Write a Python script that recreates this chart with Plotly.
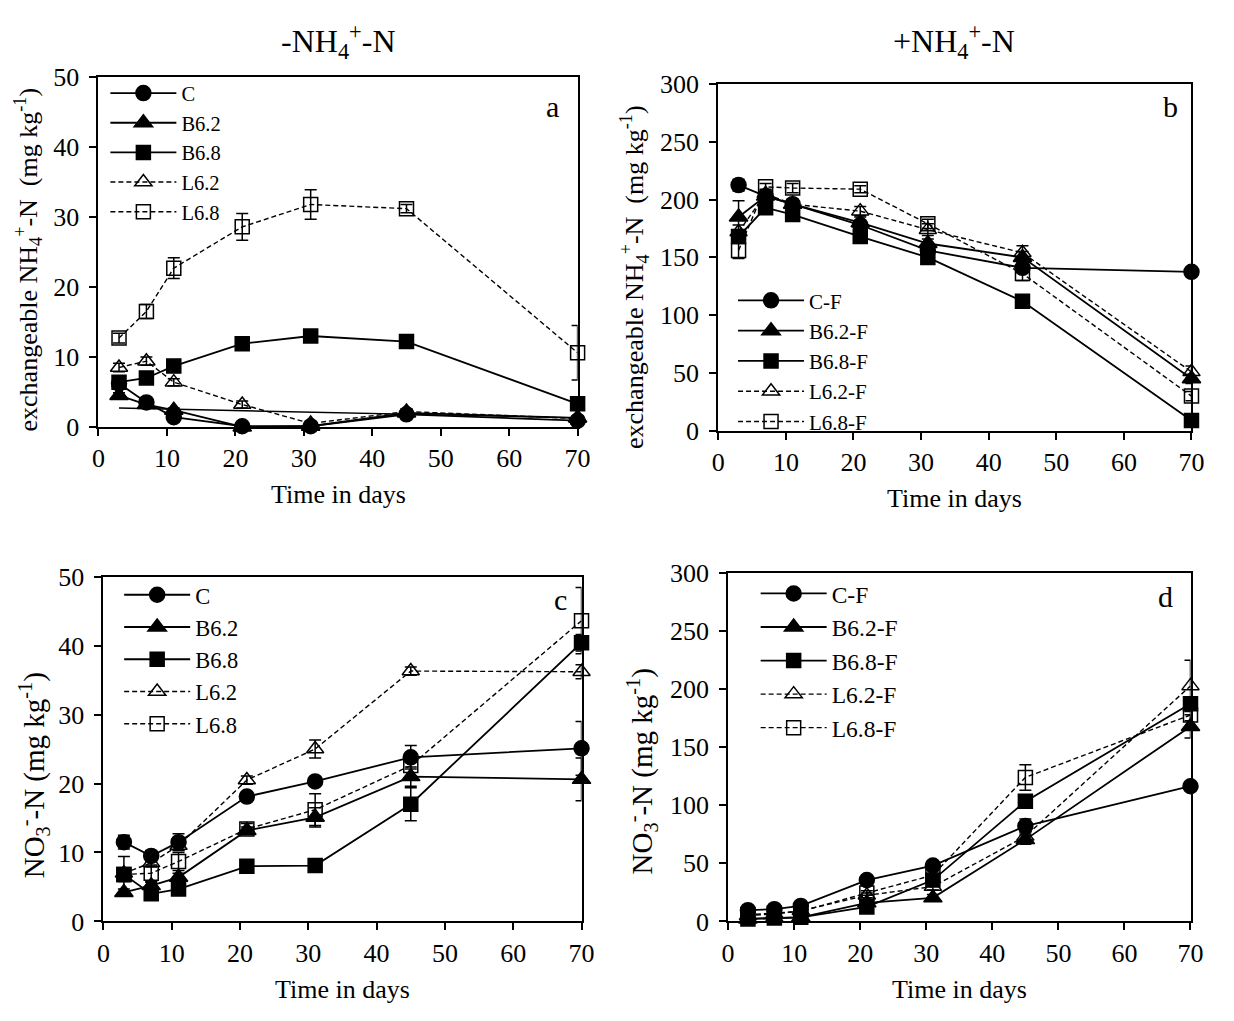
import plotly.graph_objects as go

# Sampling days
days = [3, 7, 11, 21, 31, 45, 70]

# Panel a: exchangeable NH4+-N without NH4+ addition (mg kg-1)
a_C = [6.2, 3.5, 1.4, 0.1, 0.1, 1.8, 0.9]
a_B62 = [4.5, 3.2, 2.4, 0.0, 0.1, 2.0, 1.3]
a_B68 = [6.4, 7.0, 8.7, 11.9, 13.0, 12.2, 3.3]
a_L62 = [8.5, 9.4, 6.4, 3.2, 0.5, 2.2, 1.2]
a_L68 = [12.7, 16.5, 22.7, 28.6, 31.8, 31.2, 10.6]
a_C_err = [0.4, 0.4, 0.3, 0.1, 0.1, 0.3, 0.2]
a_B62_err = [0.4, 0.3, 0.3, 0.1, 0.1, 0.3, 0.2]
a_B68_err = [0.4, 0.4, 0.4, 0.4, 0.4, 0.5, 0.4]
a_L62_err = [0.6, 0.6, 0.5, 0.5, 0.3, 0.4, 0.3]
a_L68_err = [0.7, 1.0, 1.5, 1.9, 2.1, 0.6, 3.9]
# straight line drawn without markers in panel a
a_extra_x = [3, 70]
a_extra_y = [2.7, 1.3]

# Panel b: exchangeable NH4+-N with NH4+ addition (mg kg-1)
b_C = [212.5, 203, 196, 178, 156, 141, 137.5]
b_B62 = [185, 203, 196, 180, 162, 150, 45]
b_B68 = [168, 193, 187, 168, 150, 112, 9]
b_L62 = [172, 205, 196, 190, 174, 154, 51]
b_L68 = [156, 211, 210, 209, 179, 136, 30]
b_C_err = [5, 3, 3, 4, 4, 4, 3]
b_B62_err = [14, 4, 4, 5, 4, 5, 4]
b_B68_err = [5, 4, 4, 4, 4, 3, 3]
b_L62_err = [6, 4, 4, 4, 5, 6, 5]
b_L68_err = [7, 3, 4, 3, 4, 6, 4]

# Panel c: NO3--N without NH4+ addition (mg kg-1)
c_C = [11.5, 9.5, 11.5, 18.1, 20.3, 23.8, 25.1]
c_B62 = [4.2, 5.2, 6.4, 13.2, 15.1, 21.0, 20.6]
c_B68 = [6.8, 4.0, 4.7, 8.0, 8.1, 17.0, 40.4]
c_L62 = [7.0, 8.5, 11.0, 20.5, 25.0, 36.3, 36.2]
c_L68 = [6.8, 7.0, 8.7, 13.4, 16.2, 22.6, 43.6]
c_C_err = [1.0, 0.8, 1.2, 0.5, 0.6, 1.7, 3.9]
c_B62_err = [0.5, 0.5, 0.6, 0.5, 1.4, 1.4, 3.1]
c_B68_err = [2.6, 0.4, 0.5, 0.4, 0.4, 2.4, 1.2]
c_L62_err = [0.6, 0.6, 0.7, 0.6, 1.3, 0.6, 1.0]
c_L68_err = [1.0, 1.2, 1.3, 0.8, 2.3, 1.5, 4.8]

# Panel d: NO3--N with NH4+ addition (mg kg-1)
d_C = [9.7, 10.6, 13.4, 35.6, 48.1, 82.1, 116.3]
d_B62 = [2.2, 2.8, 3.6, 16.0, 20.3, 70.4, 167.8]
d_B68 = [2.2, 3.0, 3.6, 12.5, 35.6, 103.3, 187.3]
d_L62 = [5.0, 6.4, 9.2, 22.5, 30.0, 73.2, 202.6]
d_L68 = [5.8, 7.0, 8.6, 24.5, 39.8, 123.9, 177.6]
d_C_err = [2, 2, 2, 2, 4, 6, 3]
d_B62_err = [1, 1, 1, 2, 3, 4, 10]
d_B68_err = [1, 1, 1, 2, 3, 4, 5]
d_L62_err = [1, 1, 1, 2, 3, 4, 22]
d_L68_err = [1, 1, 1, 2, 4, 11, 5]

names_plain = ["C", "B6.2", "B6.8", "L6.2", "L6.8"]
names_f = ["C-F", "B6.2-F", "B6.8-F", "L6.2-F", "L6.8-F"]

W, H = 1234, 1021
FONT = "Liberation Serif, Times New Roman, serif"

# symbol, marker size, dashed?
styles = [
    ("circle", 15, False),
    ("triangle-up", 16, False),
    ("square", 14, False),
    ("triangle-up-open", 15, True),
    ("square-open", 14, True),
]

# plot areas in pixels: (left, right, top, bottom)
boxes = {
    1: (93, 580, 65, 425),
    2: (723, 1204, 72, 429),
    3: (98, 584, 579, 934),
    4: (733, 1203, 575, 934),
}

fig = go.Figure()


def add_panel(idx, series, errors, names, legend_id):
    xa = "x" if idx == 1 else f"x{idx}"
    ya = "y" if idx == 1 else f"y{idx}"
    for (sym, size, dashed), yv, ev, nm in zip(styles, series, errors, names):
        fig.add_trace(go.Scatter(
            x=days, y=yv, name=nm, mode="lines+markers",
            xaxis=xa, yaxis=ya, legend=legend_id, cliponaxis=False,
            line=dict(color="black", width=1.4 if dashed else 1.8,
                      dash="5px,3px" if dashed else "solid"),
            marker=dict(symbol=sym, size=size, color="black",
                        line=dict(color="black", width=1.5)),
            error_y=dict(type="data", array=ev, visible=True,
                         color="black", thickness=1.5, width=6),
        ))


add_panel(1, [a_C, a_B62, a_B68, a_L62, a_L68],
          [a_C_err, a_B62_err, a_B68_err, a_L62_err, a_L68_err], names_plain, "legend")
fig.add_trace(go.Scatter(x=a_extra_x, y=a_extra_y, mode="lines", showlegend=False,
                         xaxis="x", yaxis="y", line=dict(color="black", width=1.4)))
add_panel(2, [b_C, b_B62, b_B68, b_L62, b_L68],
          [b_C_err, b_B62_err, b_B68_err, b_L62_err, b_L68_err], names_f, "legend2")
add_panel(3, [c_C, c_B62, c_B68, c_L62, c_L68],
          [c_C_err, c_B62_err, c_B68_err, c_L62_err, c_L68_err], names_plain, "legend3")
add_panel(4, [d_C, d_B62, d_B68, d_L62, d_L68],
          [d_C_err, d_B62_err, d_B68_err, d_L62_err, d_L68_err], names_f, "legend4")


def px_x(p):
    return p / W


def px_y(p):
    return 1 - p / H


layout = dict(
    width=W, height=H, margin=dict(l=0, r=0, t=0, b=0),
    paper_bgcolor="white", plot_bgcolor="white",
    font=dict(family=FONT, color="black", size=26),
)

y_ranges = {1: (0, 50, 10), 2: (0, 300, 50), 3: (0, 50, 10), 4: (0, 300, 50)}
for i, (l, r, t, b) in boxes.items():
    sx = "" if i == 1 else str(i)
    lo, hi, dt = y_ranges[i]
    common = dict(showline=True, linecolor="black", linewidth=2, mirror=True,
                  ticks="outside", ticklen=7, tickwidth=2, tickcolor="black",
                  showgrid=False, zeroline=False,
                  tickfont=dict(family=FONT, size=26, color="black"))
    layout["xaxis" + sx] = dict(domain=[px_x(l), px_x(r)], range=[0, 70], dtick=10,
                                tick0=0, anchor="y" + sx, **common)
    layout["yaxis" + sx] = dict(domain=[px_y(b), px_y(t)], range=[lo, hi], dtick=dt,
                                tick0=0, anchor="x" + sx, ticklabelstandoff=5, **common)

# legends: (left px, top px, font size)
legend_pos = {"legend": (100, 61, 20.5), "legend2": (738, 274, 21),
              "legend3": (114, 576, 22.5), "legend4": (761, 574, 23.5)}
for key, (lx, ty, fs) in legend_pos.items():
    layout[key] = dict(x=px_x(lx), y=px_y(ty), xanchor="left", yanchor="top",
                       bgcolor="rgba(0,0,0,0)", borderwidth=0, itemwidth=66,
                       font=dict(family=FONT, size=fs, color="black"),
                       tracegroupgap=0, traceorder="normal")

fig.update_layout(**layout)

ann = []
# panel headings
ann.append(dict(text="-NH<sub>4</sub><sup>+</sup>-N", x=px_x(336), y=px_y(28),
                font=dict(size=32)))
ann.append(dict(text="+NH<sub>4</sub><sup>+</sup>-N", x=px_x(963), y=px_y(28),
                font=dict(size=32)))
# panel letters
for txt, cx, cy in [("a", 554, 95), ("b", 1183, 95), ("c", 563, 603), ("d", 1178, 600)]:
    ann.append(dict(text=txt, x=px_x(cx), y=px_y(cy), font=dict(size=30)))
# x-axis titles
for i, (l, r, t, b) in boxes.items():
    ann.append(dict(text="Time in days", x=px_x((l + r) / 2), y=px_y(b + 70),
                    font=dict(size=26)))
# y-axis titles
ytitle_nh4 = "exchangeable NH<sub>4</sub><sup>+</sup>-N  (mg kg<sup>-1</sup>)"
ytitle_no3 = "NO<sub>3</sub><sup>-</sup>-N (mg kg<sup>-1</sup>)"
for txt, cx, cy, fs in [(ytitle_nh4, 21, 253, 26), (ytitle_nh4, 638, 271, 26),
                        (ytitle_no3, 27, 784, 29), (ytitle_no3, 645, 780, 29)]:
    ann.append(dict(text=txt, x=px_x(cx), y=px_y(cy), textangle=-90,
                    font=dict(size=fs)))

for a in ann:
    a.update(xref="paper", yref="paper", showarrow=False,
             xanchor="center", yanchor="middle")
    a["font"].update(family=FONT, color="black")
fig.update_layout(annotations=ann)

fig.write_html("out.html")
